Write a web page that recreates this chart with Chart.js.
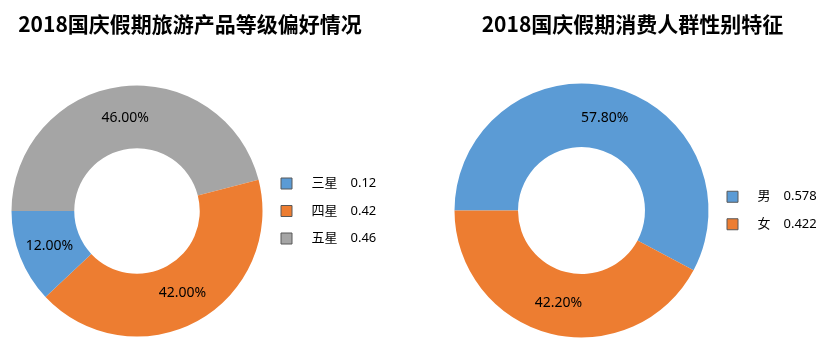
<!DOCTYPE html>
<html>
<head>
<meta charset="utf-8">
<script src="https://cdn.jsdelivr.net/npm/chart.js@4"></script>
<style>
  html, body { margin: 0; padding: 0; background: #fff; }
  #wrap { position: relative; width: 826px; height: 346px; }
  canvas { position: absolute; top: 0; }
</style>
</head>
<body>
<div id="wrap">
  <canvas id="levelChart" width="413" height="346" style="left:0"></canvas>
  <canvas id="genderChart" width="413" height="346" style="left:413px"></canvas>
</div>
<script>
// 数据
const levelTitle = "2018国庆假期旅游产品等级偏好情况";
const levelLabels = ["三星", "四星", "五星"];
const levelValues = [0.12, 0.42, 0.46];

const genderTitle = "2018国庆假期消费人群性别特征";
const genderLabels = ["男", "女"];
const genderValues = [0.578, 0.422];

const BLUE = "#5B9BD5", ORANGE = "#ED7D31", GRAY = "#A5A5A5";
const FONT = "'Noto Sans', 'Noto Sans CJK SC', sans-serif";

// 扇区中间的百分比标签
const sliceLabels = {
  id: "sliceLabels",
  afterDatasetsDraw(chart) {
    const ctx = chart.ctx;
    const values = chart.data.datasets[0].data;
    ctx.save();
    ctx.font = "14px " + FONT;
    ctx.fillStyle = "#000";
    ctx.textAlign = "center";
    ctx.textBaseline = "middle";
    chart.getDatasetMeta(0).data.forEach((arc, i) => {
      const p = arc.tooltipPosition();
      ctx.fillText((values[i] * 100).toFixed(2) + "%", p.x, p.y);
    });
    ctx.restore();
  }
};

// 图例宽度用 maxWidth 固定（保证布局），画完布局后放宽裁剪区，文字不被截断
const legendRoom = {
  id: "legendRoom",
  afterLayout(chart) {
    const lg = chart.legend;
    if (!lg) return;
    lg.right = chart.width;
    lg.width = lg.right - lg.left;
  }
};

function makeDonut(id, opt) {
  return new Chart(document.getElementById(id), {
    type: "doughnut",
    data: {
      labels: opt.labels,
      datasets: [{
        data: opt.values,
        backgroundColor: opt.colors,
        borderWidth: 0
      }]
    },
    options: {
      responsive: false,
      animation: false,
      events: [],
      cutout: "50%",
      rotation: -90, // 从 9 点钟方向开始
      layout: { padding: opt.padding },
      plugins: {
        title: {
          display: true,
          text: opt.title,
          color: "#000",
          font: { family: "'Noto Sans CJK SC', sans-serif", size: 21, weight: "bold", lineHeight: 1.2 },
          padding: opt.titlePadding
        },
        legend: {
          position: "right",
          fullSize: false,
          reverse: opt.reverse,
          maxWidth: opt.legendWidth,
          labels: {
            boxWidth: 11,
            boxHeight: 11,
            padding: 14.5,
            color: "#000",
            font: { family: FONT, size: 13 },
            generateLabels(chart) {
              const ds = chart.data.datasets[0];
              return chart.data.labels.map((label, i) => ({
                text: "\u2003" + label + "\u2003" + ds.data[i],
                fillStyle: ds.backgroundColor[i],
                strokeStyle: "#595959",
                lineWidth: 1,
                fontColor: "#000",
                index: i
              }));
            }
          }
        },
        tooltip: { enabled: false }
      }
    },
    plugins: [sliceLabels, legendRoom]
  });
}

// 左图：顺时针依次为 五星、四星、三星，图例按 三星 → 五星
makeDonut("levelChart", {
  title: levelTitle,
  labels: levelLabels.slice().reverse(),
  values: levelValues.slice().reverse(),
  colors: [BLUE, ORANGE, GRAY].reverse(),
  reverse: true,
  legendWidth: 106,
  padding: { left: 7.5, right: 40.5, top: 0, bottom: 9.5 },
  titlePadding: { top: 11.4, bottom: 48.9 }
});

makeDonut("genderChart", {
  title: genderTitle,
  labels: genderLabels,
  values: genderValues,
  colors: [BLUE, ORANGE],
  reverse: false,
  legendWidth: 102,
  padding: { left: 37.5, right: 11.5, top: 0, bottom: 8.5 },
  titlePadding: { top: 11.4, bottom: 46.9 }
});
</script>
</body>
</html>
